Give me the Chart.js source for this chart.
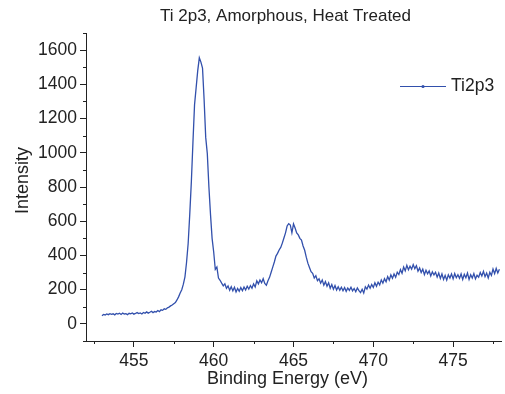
<!DOCTYPE html>
<html><head><meta charset="utf-8">
<script src="https://cdn.jsdelivr.net/npm/chart.js@4.4.0/dist/chart.umd.min.js"></script>
<style>html,body{margin:0;padding:0;background:#fff;overflow:hidden}#wrap{width:505px;height:394px;position:relative}</style>
</head><body><div id="wrap"><canvas id="c"></canvas></div>
<script>
const chartTitle = 'Ti 2p3, Amorphous, Heat Treated';
const xTitle = 'Binding Energy (eV)';
const yTitle = 'Intensity';
const seriesName = 'Ti2p3';

const bindingEnergy = [
453.0,453.1,453.2,453.3,453.4,453.5,453.6,453.7,453.8,453.9,
454.0,454.1,454.2,454.3,454.4,454.5,454.6,454.7,454.8,454.9,
455.0,455.1,455.2,455.3,455.4,455.5,455.6,455.7,455.8,455.9,
456.0,456.1,456.2,456.3,456.4,456.5,456.6,456.7,456.8,456.9,
457.0,457.1,457.2,457.3,457.4,457.5,457.6,457.7,457.8,457.9,
458.0,458.1,458.2,458.3,458.4,458.5,458.6,458.7,458.8,458.9,
459.0,459.1,459.2,459.3,459.4,459.5,459.6,459.7,459.8,459.9,
460.0,460.1,460.2,460.3,460.4,460.5,460.6,460.7,460.8,460.9,
461.0,461.1,461.2,461.3,461.4,461.5,461.6,461.7,461.8,461.9,
462.0,462.1,462.2,462.3,462.4,462.5,462.6,462.7,462.8,462.9,
463.0,463.1,463.2,463.3,463.4,463.5,463.6,463.7,463.8,463.9,
464.0,464.1,464.2,464.3,464.4,464.5,464.6,464.7,464.8,464.9,
465.0,465.1,465.2,465.3,465.4,465.5,465.6,465.7,465.8,465.9,
466.0,466.1,466.2,466.3,466.4,466.5,466.6,466.7,466.8,466.9,
467.0,467.1,467.2,467.3,467.4,467.5,467.6,467.7,467.8,467.9,
468.0,468.1,468.2,468.3,468.4,468.5,468.6,468.7,468.8,468.9,
469.0,469.1,469.2,469.3,469.4,469.5,469.6,469.7,469.8,469.9,
470.0,470.1,470.2,470.3,470.4,470.5,470.6,470.7,470.8,470.9,
471.0,471.1,471.2,471.3,471.4,471.5,471.6,471.7,471.8,471.9,
472.0,472.1,472.2,472.3,472.4,472.5,472.6,472.7,472.8,472.9,
473.0,473.1,473.2,473.3,473.4,473.5,473.6,473.7,473.8,473.9,
474.0,474.1,474.2,474.3,474.4,474.5,474.6,474.7,474.8,474.9,
475.0,475.1,475.2,475.3,475.4,475.5,475.6,475.7,475.8,475.9,
476.0,476.1,476.2,476.3,476.4,476.5,476.6,476.7,476.8,476.9,
477.0,477.1,477.2,477.3,477.4,477.5,477.6,477.7,477.8,477.9
];

const intensity = [
48,55,52,58,54,60,56,59,53,61,
57,62,55,63,58,60,54,62,59,64,
57,61,66,60,64,58,67,62,70,63,
68,74,66,72,69,78,72,82,79,88,
85,94,98,105,110,118,125,140,158,180,
200,232,275,360,470,640,830,1060,1280,1380,
1480,1555,1530,1495,1310,1090,995,800,640,500,
420,318,332,268,255,238,222,234,208,222,
196,217,193,214,186,207,190,212,194,216,
198,220,203,224,208,234,216,252,234,257,
240,264,236,226,252,272,302,332,362,396,
412,432,447,472,502,532,572,586,578,532,
584,560,532,520,500,490,455,430,390,355,
330,305,295,268,282,253,264,238,257,226,
247,220,240,208,230,203,224,198,217,196,
214,194,212,190,210,196,214,193,207,188,
210,194,183,202,180,217,203,227,208,230,
213,240,220,244,228,257,238,264,246,277,
256,287,266,292,273,302,288,317,296,332,
310,342,316,337,320,347,323,340,308,327,
300,320,288,314,293,310,280,304,286,302,
273,297,266,292,260,284,256,287,268,292,
263,294,270,287,266,292,260,290,270,297,
260,287,268,294,263,284,273,300,280,307,
276,297,268,302,283,320,293,324,298,320
];

const xMajorTicks = [455, 460, 465, 470, 475];
const xMinorTicks = [452.5, 457.5, 462.5, 467.5, 472.5, 477.5];
const yMajorTicks = [0, 200, 400, 600, 800, 1000, 1200, 1400, 1600];
const yMinorTicks = [-100, 100, 300, 500, 700, 900, 1100, 1300, 1500, 1700];
const xRange = [452, 478];
const yRange = [-100, 1700];

const lineColor = 'rgb(50,80,172)';
const axisColor = '#222';
const textColor = '#222';
const FONT = "'Liberation Sans', Arial, sans-serif";

const points = bindingEnergy.map((e, i) => ({x: e, y: intensity[i]}));

const isMajor = (list, v) => list.some(m => Math.abs(m - v) < 1e-6);

const decor = {
  id: 'decor',
  afterDraw(chart) {
    const ctx = chart.ctx;
    const xs = chart.scales.x, ys = chart.scales.y;
    const ca = chart.chartArea;
    ctx.save();
    ctx.strokeStyle = axisColor;
    ctx.lineWidth = 1;
    ctx.beginPath();
    yMinorTicks.forEach(v => {
      const py = Math.round(ys.getPixelForValue(v)) + 0.5;
      ctx.moveTo(ca.left - 3, py); ctx.lineTo(ca.left, py);
    });
    xMinorTicks.forEach(v => {
      const px = Math.round(xs.getPixelForValue(v)) + 0.5;
      ctx.moveTo(px, ca.bottom); ctx.lineTo(px, ca.bottom + 3);
    });
    ctx.stroke();

    // titles
    ctx.fillStyle = textColor;
    ctx.textAlign = 'center';
    ctx.textBaseline = 'alphabetic';
    ctx.font = '17px ' + FONT;
    ctx.fillText(chartTitle, 285.5, 20.5);
    ctx.font = '18px ' + FONT;
    ctx.fillText(xTitle, 287.5, 383.5);
    ctx.save();
    ctx.translate(28, 180.5);
    ctx.rotate(-Math.PI / 2);
    ctx.fillText(yTitle, 0, 0);
    ctx.restore();

    // legend
    const ly = 86.5;
    ctx.strokeStyle = lineColor;
    ctx.beginPath();
    ctx.moveTo(400, ly); ctx.lineTo(446, ly);
    ctx.stroke();
    ctx.fillStyle = lineColor;
    ctx.beginPath();
    ctx.arc(423, ly, 1.6, 0, Math.PI * 2);
    ctx.fill();
    ctx.fillStyle = textColor;
    ctx.textAlign = 'left';
    ctx.textBaseline = 'middle';
    ctx.font = '17.5px ' + FONT;
    ctx.fillText(chart.data.datasets[0].label, 451, ly);
    ctx.restore();
  }
};

new Chart(document.getElementById('c'), {
  type: 'line',
  data: {
    datasets: [{
      label: seriesName,
      data: points,
      borderColor: lineColor,
      borderWidth: 1.3,
      pointRadius: 0,
      tension: 0,
      fill: false
    }]
  },
  options: {
    responsive: true,
    maintainAspectRatio: false,
    animation: false,
    devicePixelRatio: 1,
    layout: {padding: {top: 33, right: 1, left: 0, bottom: 0}},
    plugins: {legend: {display: false}, title: {display: false}, tooltip: {enabled: false}},
    scales: {
      x: {
        type: 'linear', min: xRange[0], max: xRange[1],
        afterFit(s) { s.height = 53; },
        border: {display: true, color: axisColor, width: 1},
        grid: {drawOnChartArea: false, drawTicks: true, tickLength: 6,
               tickColor: c => (c.tick && isMajor(xMajorTicks, c.tick.value)) ? axisColor : 'rgba(0,0,0,0)'},
        ticks: {stepSize: 2.5, autoSkip: false, maxRotation: 0, minRotation: 0, padding: 4,
                color: textColor, font: {family: FONT, size: 17.5},
                callback: v => isMajor(xMajorTicks, v) ? String(v) : ''}
      },
      y: {
        type: 'linear', min: yRange[0], max: yRange[1],
        afterFit(s) { s.width = 86; },
        border: {display: true, color: axisColor, width: 1},
        grid: {drawOnChartArea: false, drawTicks: true, tickLength: 6,
               tickColor: c => (c.tick && isMajor(yMajorTicks, c.tick.value)) ? axisColor : 'rgba(0,0,0,0)'},
        ticks: {stepSize: 100, autoSkip: false, padding: 3,
                color: textColor, font: {family: FONT, size: 17.5},
                callback: v => isMajor(yMajorTicks, v) ? String(v) : ''}
      }
    }
  },
  plugins: [decor]
});
</script>
</body></html>
